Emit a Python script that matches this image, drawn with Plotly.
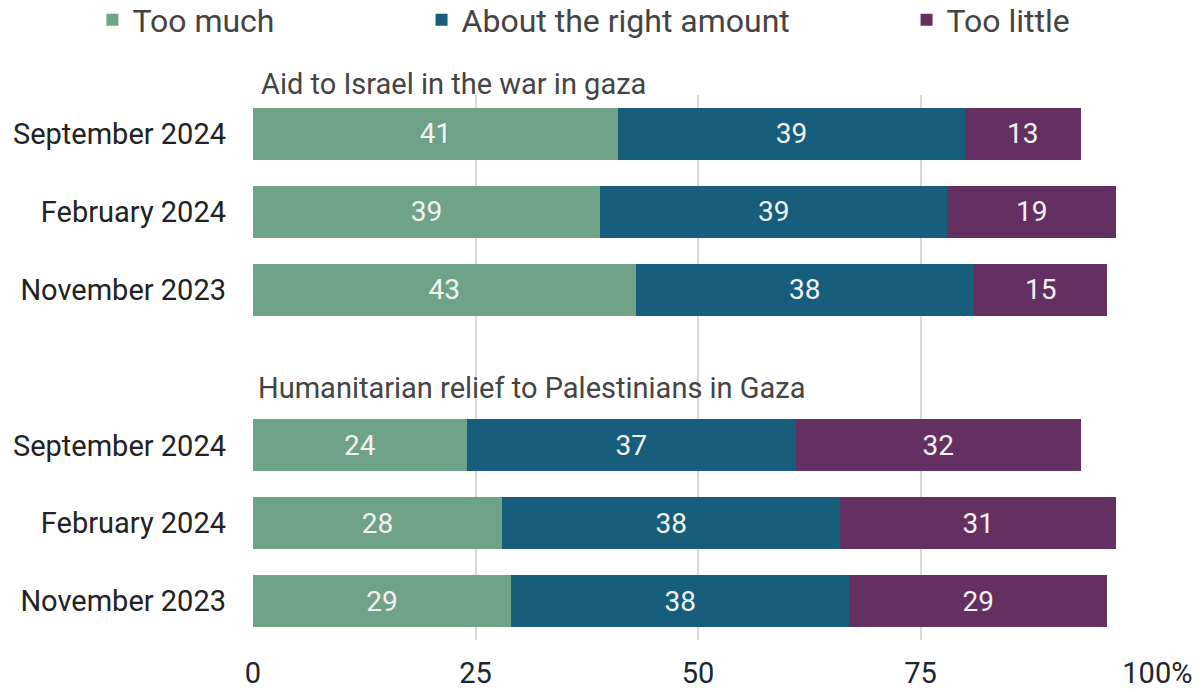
import plotly.graph_objects as go

# Survey rows, top to bottom; an empty slot separates the two questions
row_labels = ["September 2024", "February 2024", "November 2023",
              "September 2024", "February 2024", "November 2023"]
row_slots = [0, 1, 2, 4, 5, 6]

too_much = [41, 39, 43, 24, 28, 29]
right_amount = [39, 39, 38, 37, 38, 38]
too_little = [13, 19, 15, 32, 31, 29]

series = [
    ("Too much", too_much, "#70a288", "legend"),
    ("About the right amount", right_amount, "#175d7c", "legend2"),
    ("Too little", too_little, "#643062", "legend3"),
]

x_ticks = [0, 25, 50, 75, 100]
# the "%" hangs to the right of the last tick, so "100" stays centred on it
x_tick_text = ["0", "25", "50", "75", "\u00a0\u00a0\u00a0\u00a0100%"]

FONT = "Roboto"

fig = go.Figure()
for name, vals, color, leg in series:
    fig.add_trace(go.Bar(
        name=name,
        y=row_slots,
        x=vals,
        orientation="h",
        marker=dict(color=color, line=dict(width=0)),
        width=0.67,
        text=[str(v) for v in vals],
        textposition="inside",
        insidetextanchor="middle",
        textangle=0,
        textfont=dict(family=FONT, size=28, color="#f2f2f2"),
        legend=leg,
        hoverinfo="skip",
    ))

legend_common = dict(
    orientation="h",
    xref="container",
    yref="container",
    yanchor="middle",
    y=0.971,
    xanchor="left",
    font=dict(family=FONT, size=32, color="#444444"),
    bgcolor="rgba(0,0,0,0)",
    itemwidth=30,
)

fig.update_layout(
    barmode="stack",
    width=1202,
    height=692,
    margin=dict(l=253, r=59, t=95, b=52),
    plot_bgcolor="white",
    paper_bgcolor="white",
    showlegend=True,
    legend=dict(x=0.0769, **legend_common),
    legend2=dict(x=0.3507, **legend_common),
    legend3=dict(x=0.7542, **legend_common),
    xaxis=dict(
        range=[0, 100],
        tickvals=x_ticks,
        ticktext=x_tick_text,
        showgrid=True,
        gridcolor="#d9d9d9",
        gridwidth=2,
        zeroline=False,
        showline=False,
        ticks="",
        ticklabelstandoff=13,
        tickfont=dict(family=FONT, size=29, color="#1b2631"),
        automargin=False,
        fixedrange=True,
    ),
    yaxis=dict(
        range=[6.5, -0.5],
        tickvals=row_slots,
        ticktext=row_labels,
        showgrid=False,
        zeroline=False,
        showline=False,
        ticks="",
        ticklabelstandoff=26,
        tickfont=dict(family=FONT, size=29, color="#222222"),
        automargin=False,
        fixedrange=True,
    ),
    annotations=[
        dict(text="Aid to Israel in the war in gaza", xref="paper", yref="paper",
             x=0.007, y=1.021, xanchor="left", yanchor="middle", showarrow=False,
             font=dict(family=FONT, size=29, color="#444444")),
        dict(text="Humanitarian relief to Palestinians in Gaza", xref="paper", yref="paper",
             x=0.003, y=0.462, xanchor="left", yanchor="middle", showarrow=False,
             font=dict(family=FONT, size=29, color="#444444")),
    ],
)

fig.write_html("out.html")
